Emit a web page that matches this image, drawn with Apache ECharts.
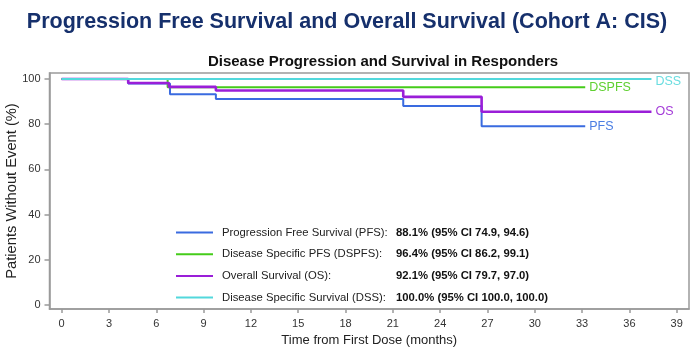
<!DOCTYPE html>
<html>
<head>
<meta charset="utf-8">
<script src="https://cdn.jsdelivr.net/npm/echarts@6/dist/echarts.min.js"></script>
<style>
html,body{margin:0;padding:0;background:#fff;}
#chart{width:700px;height:357px;}
</style>
</head>
<body>
<div id="chart"></div>
<script>
// ---- data (time in months, percent without event) ----
const pfs   = [[0,100],[4.22,98.0],[6.87,93.2],[9.78,91.2],[21.66,88.1],[26.63,79.1],[33.2,79.1]];
const dspfs = [[0,100],[6.72,96.4],[33.2,96.4]];
const os    = [[0,100],[4.22,98.2],[6.8,96.5],[9.78,94.9],[21.66,92.1],[26.63,85.5],[37.4,85.5]];
const dss   = [[0,100],[37.4,100]];

const seriesNames   = ['PFS','DSPFS','OS','DSS'];
const legendLabels  = ['Progression Free Survival (PFS):','Disease Specific PFS (DSPFS):','Overall Survival (OS):','Disease Specific Survival (DSS):'];
const legendValues  = ['88.1% (95% CI 74.9, 94.6)','96.4% (95% CI 86.2, 99.1)','92.1% (95% CI 79.7, 97.0)','100.0% (95% CI 100.0, 100.0)'];
const xTicks = [0,3,6,9,12,15,18,21,24,27,30,33,36,39];
const yTicks = [0,20,40,60,80,100];

const colors      = ['#3a6be0','#45cc1a','#9a1ed8','#52d8dc'];
const labelColors = ['#4a7de3','#5fd030','#a43cd8','#6adde0'];
const widths      = [2,2,2.6,2];
const dataSets    = [pfs,dspfs,os,dss];

const chart = echarts.init(document.getElementById('chart'));
const series = seriesNames.map((n,i)=>({
  name:n, type:'line', step:'end', data:dataSets[i], showSymbol:false, symbol:'none',
  lineStyle:{color:colors[i],width:widths[i]}, itemStyle:{color:colors[i]},
  animation:false,
  endLabel:{show:true, formatter:n, color:labelColors[i], fontSize:12.5,
    fontFamily:'Liberation Sans', distance:4, offset:(i===3?[0,3]:[0,0])}
}));

chart.setOption({
  animation:false,
  title:[
    {text:'Progression Free Survival and Overall Survival (Cohort A: CIS)', left:347, top:11, textAlign:'center', padding:0,
     textStyle:{fontFamily:'Liberation Sans', fontWeight:'bold', fontSize:21.5, color:'#16306c'}},
    {text:'Disease Progression and Survival in Responders', left:383, top:54, textAlign:'center', padding:0,
     textStyle:{fontFamily:'Liberation Sans', fontWeight:'bold', fontSize:15, color:'#111'}}
  ],
  grid:{left:49.5, top:73, right:11, bottom:48, show:true, borderColor:'#9a9a9a', borderWidth:1.5, outerBoundsMode:'none', containLabel:false},
  legend:{
    data:seriesNames, orient:'vertical', left:176, top:227, itemGap:10.7, padding:0,
    icon:'rect', itemWidth:37, itemHeight:2,
    formatter:function(name){const i=seriesNames.indexOf(name);return '{n|'+legendLabels[i]+'}{v|'+legendValues[i]+'}';},
    textStyle:{rich:{
      n:{fontFamily:'Liberation Sans', fontSize:11.3, color:'#222', width:174, padding:[0,0,0,4], lineHeight:14},
      v:{fontFamily:'Liberation Sans', fontSize:11.3, fontWeight:'bold', color:'#111', lineHeight:14}
    }}
  },
  xAxis:{type:'value', min:-0.77, max:39.78,
    name:'Time from First Dose (months)', nameLocation:'middle', nameGap:25, nameMoveOverlap:false,
    nameTextStyle:{fontFamily:'Liberation Sans', fontSize:13, color:'#222'},
    axisLine:{show:true, onZero:false, lineStyle:{color:'#9a9a9a', width:1.5}},
    axisTick:{show:true, customValues:xTicks, length:4, lineStyle:{color:'#9a9a9a', width:1.5}},
    axisLabel:{customValues:xTicks, fontFamily:'Liberation Sans', fontSize:11, color:'#333', margin:9},
    splitLine:{show:false}},
  yAxis:{type:'value', min:-1.77, max:102.65,
    name:'Patients Without Event (%)', nameLocation:'middle', nameGap:30, nameMoveOverlap:false,
    nameTextStyle:{fontFamily:'Liberation Sans', fontSize:14.7, color:'#222'},
    axisLine:{show:true, onZero:false, lineStyle:{color:'#9a9a9a', width:1.5}},
    axisTick:{show:true, customValues:yTicks, length:5, lineStyle:{color:'#9a9a9a', width:1.5}},
    axisLabel:{customValues:yTicks, fontFamily:'Liberation Sans', fontSize:11, color:'#333', margin:9},
    splitLine:{show:false}},
  series:series
});
</script>
</body>
</html>
